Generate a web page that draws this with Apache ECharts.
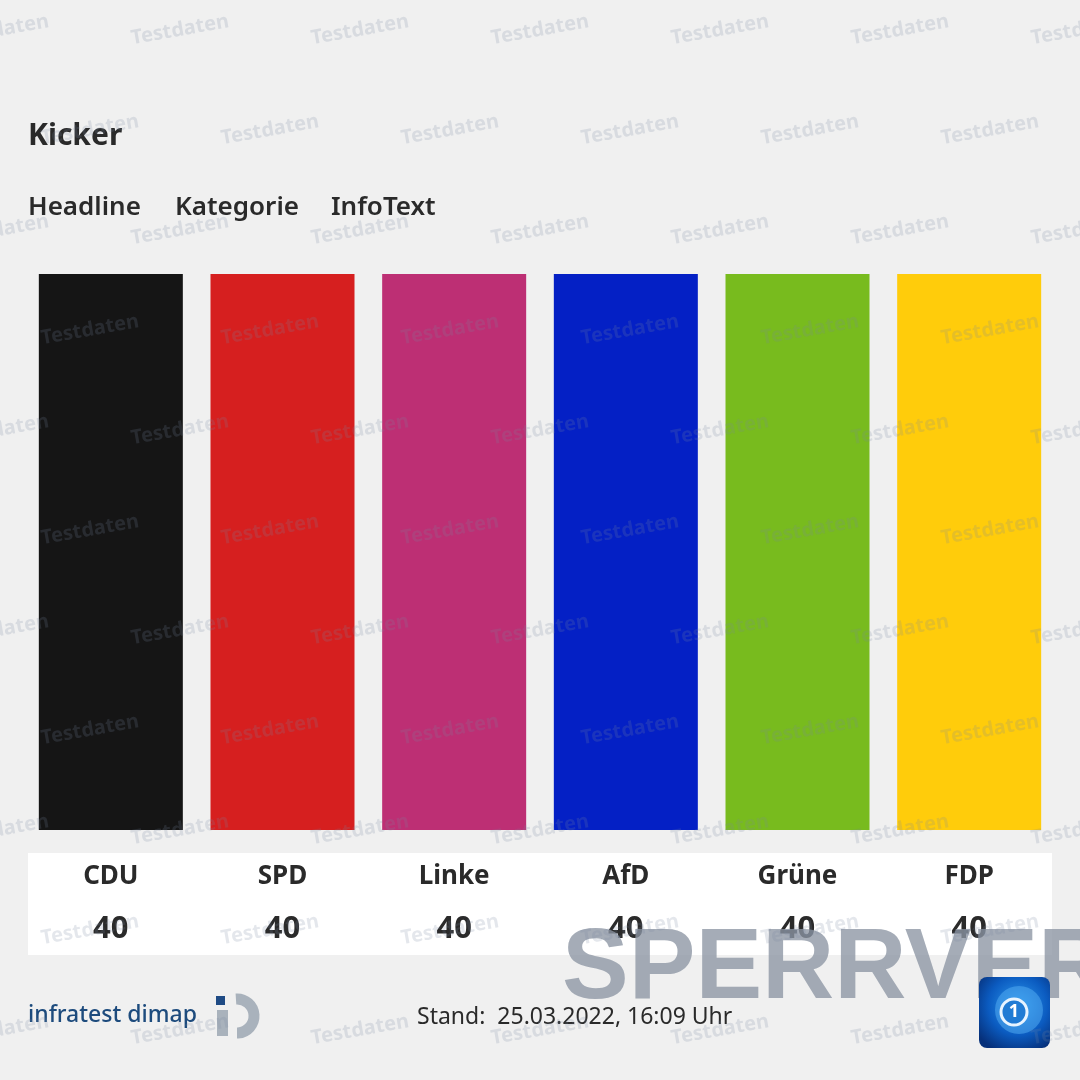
<!DOCTYPE html>
<html>
<head>
<meta charset="utf-8">
<script src="https://cdn.jsdelivr.net/npm/echarts@6/dist/echarts.min.js"></script>
<style>
  html, body { margin: 0; padding: 0; background: #f0f0f0; }
  #chart { width: 1080px; height: 1080px; }
</style>
</head>
<body>
<div id="chart"></div>
<script>
// Parteien und Werte
const parties = ['CDU', 'SPD', 'Linke', 'AfD', 'Grüne', 'FDP'];
const values = [40, 40, 40, 40, 40, 40];
const partyColors = ['#151515', '#d61f1f', '#bd2f74', '#0420c5', '#78bb1e', '#ffcc0b'];

const kicker = 'Kicker';
const headerItems = ['Headline', 'Kategorie', 'InfoText'];
const standText = 'Stand:  25.03.2022, 16:09 Uhr';

const FONT = '"Noto Sans", sans-serif';
const chart = echarts.init(document.getElementById('chart'));

// Wasserzeichen "Testdaten"
const watermarks = [];
for (let row = 0; row < 11; row++) {
  const offset = row % 2 === 0 ? 0 : 90;
  for (let col = -1; col < 7; col++) {
    watermarks.push({
      type: 'text',
      x: offset + col * 180,
      y: 30 + row * 100,
      rotation: 10 * Math.PI / 180,
      z: 100,
      silent: true,
      style: {
        text: 'Testdaten',
        fill: 'rgba(120,135,160,0.2)',
        font: 'bold 20px ' + FONT,
        align: 'center',
        verticalAlign: 'middle'
      }
    });
  }
}

const headerX = [28, 175, 331];

const option = {
  backgroundColor: '#f0f0f0',
  animation: false,
  grid: { left: 25, right: 25, top: 274, bottom: 250 },
  xAxis: {
    type: 'category',
    data: parties,
    axisLine: { show: false },
    axisTick: { show: false },
    axisLabel: {
      margin: 25,
      formatter: (name, idx) => '{n|' + name + '}\n{v|' + values[idx] + '}',
      rich: {
        n: { fontFamily: FONT, fontWeight: 'bold', fontSize: 26, color: '#2a2a2a', lineHeight: 44 },
        v: { fontFamily: FONT, fontWeight: 'bold', fontSize: 31, color: '#2a2a2a', lineHeight: 60 }
      }
    }
  },
  yAxis: { type: 'value', min: 0, max: 40, show: false, splitLine: { show: false } },
  series: [{
    type: 'bar',
    barWidth: 144,
    data: values.map((v, i) => ({ value: v, itemStyle: { color: partyColors[i] } }))
  }],
  graphic: [
    { type: 'rect', z: -10, shape: { x: 28, y: 853, width: 1024, height: 102 }, style: { fill: '#ffffff' } },
    { type: 'text', x: 28, y: 136, style: { text: kicker, font: 'bold 30px ' + FONT, fill: '#2a2a2a', verticalAlign: 'middle' } },
    ...headerItems.map((t, i) => ({
      type: 'text', x: headerX[i], y: 208,
      style: { text: t, font: '600 26px ' + FONT, fill: '#2a2a2a', verticalAlign: 'middle' }
    })),
    // infratest dimap Logo
    { type: 'text', x: 28, y: 1015, style: { text: 'infratest dimap', font: '500 23px ' + FONT, fill: '#1d4b7d', verticalAlign: 'middle' } },
    { type: 'rect', shape: { x: 216, y: 996, width: 9, height: 9 }, style: { fill: '#1f4b85' } },
    { type: 'rect', shape: { x: 217, y: 1010, width: 11, height: 26 }, style: { fill: '#a9b2bc' } },
    { type: 'arc', shape: { cx: 237, cy: 1016, r: 17, startAngle: -Math.PI * 0.52, endAngle: Math.PI * 0.5 }, style: { stroke: '#a9b2bc', lineWidth: 11, fill: 'none' } },
    { type: 'text', x: 417, y: 1017, style: { text: standText, font: '23px ' + FONT, fill: '#2a2a2a', verticalAlign: 'middle' } },
    // Sperrvermerk
    { type: 'text', x: 562, y: 970, z: 80, style: { text: 'SPERRVERMERK', font: 'bold 100px "Liberation Sans", sans-serif', fill: 'rgba(140,149,163,0.78)', verticalAlign: 'middle' } },
    // tagesschau Logo
    { type: 'rect', z: 90, shape: { x: 979, y: 977, width: 71, height: 71, r: 8 },
      style: { fill: new echarts.graphic.RadialGradient(0.55, 0.4, 0.7, [{ offset: 0, color: '#2c9af0' }, { offset: 0.6, color: '#0b5bc0' }, { offset: 1, color: '#06307a' }]) } },
    { type: 'circle', z: 91, shape: { cx: 1019, cy: 1010, r: 24 }, style: { fill: 'rgba(80,170,240,0.55)' } },
    { type: 'circle', z: 92, shape: { cx: 1014, cy: 1012, r: 13 }, style: { fill: 'rgba(30,120,210,0.9)', stroke: '#e8f4ff', lineWidth: 3 } },
    { type: 'text', z: 93, x: 1014, y: 1012, style: { text: '1', font: 'bold 18px ' + FONT, fill: '#ffffff', align: 'center', verticalAlign: 'middle' } },
    ...watermarks
  ]
};

chart.setOption(option);
</script>
</body>
</html>
